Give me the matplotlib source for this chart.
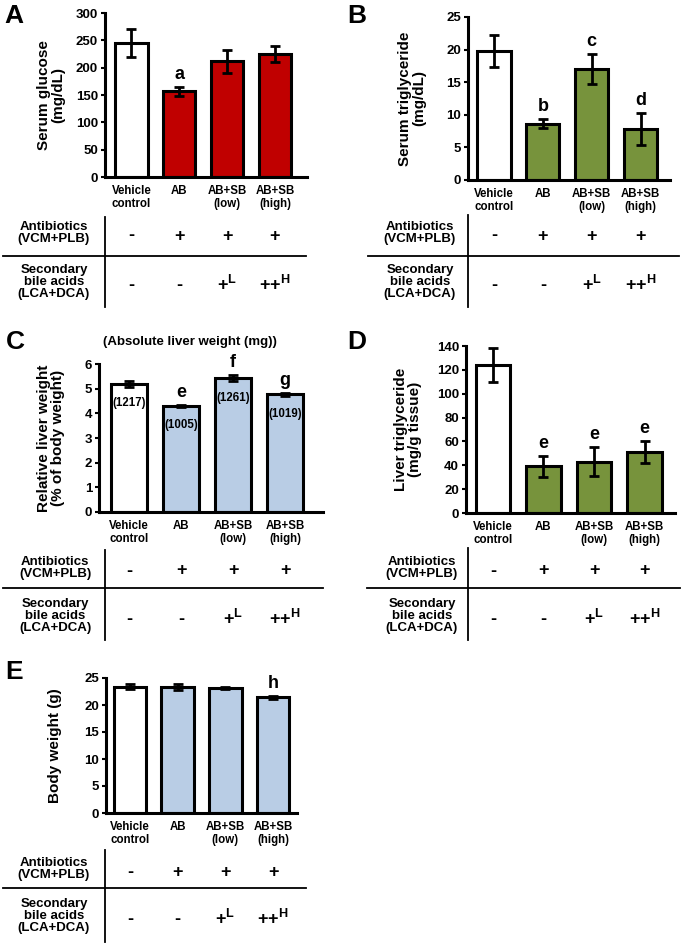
import matplotlib
matplotlib.use("Agg")
import matplotlib.pyplot as plt
from matplotlib.transforms import blended_transform_factory

plt.rcParams['font.family'] = ['Liberation Sans', 'DejaVu Sans']
plt.rcParams['font.weight'] = 'bold'
plt.rcParams['mathtext.fontset'] = 'custom'
plt.rcParams['mathtext.rm'] = 'Liberation Sans:bold'
plt.rcParams['mathtext.bf'] = 'Liberation Sans:bold'

W, H = 685, 946

# Dados
grupos = ["Vehicle\ncontrol", "AB", "AB+SB\n(low)", "AB+SB\n(high)"]
antibioticos = ["-", "+", "+", "+"]
acidos_biliares = ["-", "-", r"+$^{\mathbf{L}}$", r"++$^{\mathbf{H}}$"]

glicose = [245, 157, 212, 225]
glicose_err = [25, 8, 21, 14]
glicose_letras = ["", "a", "", ""]

tg_serico = [19.8, 8.6, 17.0, 7.8]
tg_serico_err = [2.4, 0.7, 2.3, 2.4]
tg_serico_letras = ["", "b", "c", "d"]

peso_figado_rel = [5.2, 4.3, 5.43, 4.77]
peso_figado_rel_err = [0.12, 0.05, 0.12, 0.05]
peso_figado_letras = ["", "e", "f", "g"]
peso_figado_abs = ["(1217)", "(1005)", "(1261)", "(1019)"]

tg_figado = [124, 39, 43, 51]
tg_figado_err = [14, 9, 12, 9]
tg_figado_letras = ["", "e", "e", "e"]

peso_corporal = [23.4, 23.3, 23.2, 21.4]
peso_corporal_err = [0.4, 0.5, 0.2, 0.3]
peso_corporal_letras = ["", "", "", "h"]

vermelho = "#C00000"
verde = "#77933C"
azul = "#B9CDE5"

fig = plt.figure(figsize=(W / 100, H / 100), dpi=100)


def fy(y):
    return 1 - y / H


def fx(x):
    return x / W


def painel(caixa, valores, erros, cor, letras, ymax, yticks, ylabel, ylabel_x,
           xlim, letra_painel, pos_letra, tabela):
    esq, topo, dir_, base = caixa
    ax = fig.add_axes([fx(esq), fy(base), fx(dir_ - esq), (base - topo) / H])
    cores = ["white"] + [cor] * 3
    x = list(range(len(valores)))
    ax.bar(x, valores, width=0.68, color=cores, edgecolor="black", linewidth=2.2,
           yerr=erros, error_kw=dict(ecolor="black", elinewidth=2, capsize=3.6, capthick=2))
    ax.set_xlim(*xlim)
    ax.set_ylim(0, ymax)
    ax.set_yticks(yticks)
    ax.set_yticklabels([str(t) for t in yticks], fontsize=9.5, fontweight="bold")
    ax.set_xticks(x)
    ax.set_xticklabels(grupos, fontsize=8.3, fontweight="bold", linespacing=1.05)
    ax.tick_params(axis="x", length=0, pad=6)
    ax.tick_params(axis="y", length=3, width=1.5, direction="out", pad=2)
    for s in ["top", "right"]:
        ax.spines[s].set_visible(False)
    for s in ["left", "bottom"]:
        ax.spines[s].set_linewidth(2.2)
    ax.set_ylabel(ylabel, fontsize=11, fontweight="bold", linespacing=1.0, va="center")
    ax.yaxis.set_label_coords((ylabel_x - esq) / (dir_ - esq), 0.5)
    for i, l in enumerate(letras):
        if l:
            ax.annotate(l, (i, valores[i] + erros[i]), xytext=(0, 3), textcoords="offset points",
                        ha="center", va="bottom", fontsize=13, fontweight="bold")
    fig.text(fx(pos_letra[0]), fy(pos_letra[1]), letra_painel, fontsize=19,
             fontweight="bold", ha="center", va="center")

    # tabela de tratamentos
    rot_x, vx, v_top, v_bot, hx0, hx1, hy, y1, y2 = tabela
    trans = blended_transform_factory(ax.transData, fig.transFigure)
    fig.add_artist(plt.Line2D([fx(vx), fx(vx)], [fy(v_top), fy(v_bot)], color="black", lw=1.3))
    fig.add_artist(plt.Line2D([fx(hx0), fx(hx1)], [fy(hy), fy(hy)], color="black", lw=1.3))
    fig.text(fx(rot_x), fy(y1 - 3), "Antibiotics\n(VCM+PLB)", ha="center", va="center",
             fontsize=9.5, fontweight="bold", linespacing=1.0)
    fig.text(fx(rot_x), fy(y2 - 3), "Secondary\nbile acids\n(LCA+DCA)", ha="center", va="center",
             fontsize=9.5, fontweight="bold", linespacing=1.0)
    for i in x:
        ax.text(i, fy(y1), antibioticos[i], transform=trans, ha="center", va="center",
                fontsize=13, fontweight="bold")
        ax.text(i, fy(y2), acidos_biliares[i], transform=trans, ha="center", va="center",
                fontsize=13, fontweight="bold")
    return ax


painel((105, 13, 307, 177), glicose, glicose_err, vermelho, glicose_letras, 300,
       [0, 50, 100, 150, 200, 250, 300], "Serum glucose\n(mg/dL)", 51,
       (-0.55, 3.67), "A", (14, 16),
       (54, 105, 217, 307, 3, 306, 256, 236, 285))

painel((468, 17, 670, 180), tg_serico, tg_serico_err, verde, tg_serico_letras, 25,
       [0, 5, 10, 15, 20, 25], "Serum triglyceride\n(mg/dL)", 412,
       (-0.53, 3.6), "B", (357, 16),
       (420, 468, 215, 307, 368, 679, 256, 236, 285))

axc = painel((99, 364, 323, 512), peso_figado_rel, peso_figado_rel_err, azul, peso_figado_letras, 6,
             [0, 1, 2, 3, 4, 5, 6], "Relative liver weight\n(% of body weight)", 51,
             (-0.58, 3.73), "C", (15, 342),
             (55, 105, 550, 640, 3, 323, 588, 571, 619))
for i, t in enumerate(peso_figado_abs):
    axc.annotate(t, (i, peso_figado_rel[i]), xytext=(0, -14), textcoords="offset points",
                 ha="center", va="center", fontsize=8.3, fontweight="bold")
fig.text(fx(190), fy(342), "(Absolute liver weight (mg))", ha="center", va="center",
         fontsize=9.5, fontweight="bold")

painel((466, 346, 675, 513), tg_figado, tg_figado_err, verde, tg_figado_letras, 140,
       [0, 20, 40, 60, 80, 100, 120, 140], "Liver triglyceride\n(mg/g tissue)", 408,
       (-0.53, 3.6), "D", (357, 342),
       (422, 468, 548, 640, 367, 680, 588, 571, 619))

painel((106, 678, 297, 813), peso_corporal, peso_corporal_err, azul, peso_corporal_letras, 25,
       [0, 5, 10, 15, 20, 25], "Body weight (g)", 55,
       (-0.5, 3.5), "E", (14, 672),
       (54, 105, 850, 942, 3, 306, 888, 872, 919))

fig.savefig("out.png", dpi=100)
